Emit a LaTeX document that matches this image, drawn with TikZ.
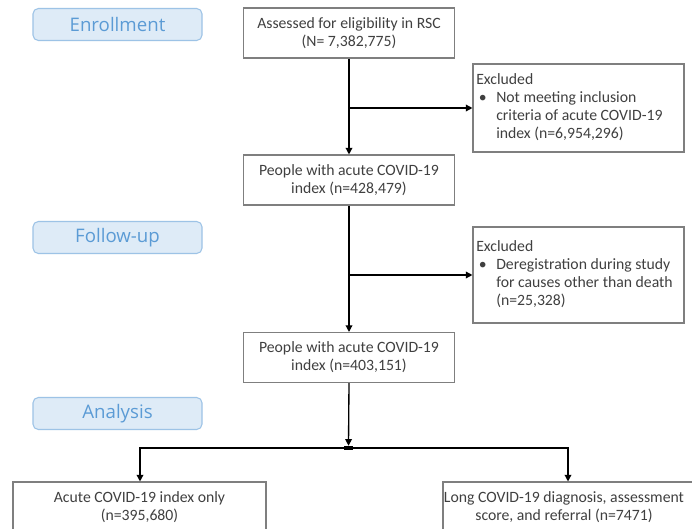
\documentclass[tikz,border=0pt]{standalone}
\usepackage{fontspec}
\setmainfont{Carlito}
\newfontfamily\stagefont{Open Sans}
\usetikzlibrary{arrows.meta}
\definecolor{stagefill}{HTML}{DEEBF7}
\definecolor{stageline}{HTML}{9DC3E6}
\definecolor{stagetext}{HTML}{5B9BD5}
\definecolor{boxtext}{HTML}{404040}
\definecolor{boxline}{HTML}{7F7F7F}
\begin{document}
\begin{tikzpicture}[x=0.75pt,y=-0.75pt,
  stage/.style={draw=stageline, fill=stagefill, rounded corners=4pt, minimum width=126.75pt, minimum height=24pt, text=stagetext, font=\stagefont\fontsize{14}{16}\selectfont, inner sep=0pt, line width=0.8pt},
  box/.style={draw=boxline, text=boxtext, font=\fontsize{11.8}{13.5}\selectfont, align=center, inner sep=0pt, line width=0.8pt},
  txt/.style={text=boxtext, font=\fontsize{11.8}{13.5}\selectfont, inner sep=0pt},
  conn/.style={line width=1pt, -{Triangle[length=5pt,width=5pt]}},
  plain/.style={line width=1pt}]
\useasboundingbox (0,0) rectangle (692,528);
\clip (0,0) rectangle (692,528);
\fill[white] (0,0) rectangle (692,528);

% stage labels
\node[stage] (s1) at (117.5,24.5) {Enrollment};
\node[stage] (s2) at (117.5,237.5) {Follow-up};
\node[stage] (s3) at (117.5,413.5) {Analysis};

% main boxes
\node[box, minimum width=158.25pt, minimum height=37.5pt] (b1) at (349,33)
  {Assessed for eligibility in RSC\\(N= 7,382,775)};
\node[box, minimum width=158.25pt, minimum height=37.5pt] (b2) at (349,180)
  {People with acute COVID-19\\index (n=428,479)};
\node[box, minimum width=158.25pt, minimum height=37.5pt] (b3) at (349,357.5)
  {People with acute COVID-19\\index (n=403,151)};

% exclusion boxes
\node[box, minimum width=158.25pt, minimum height=66pt] (e1) at (578.5,108) {};
\node[txt, anchor=north west, align=left] (e1t) at (476,72)
  {\begin{tabular}{@{}p{15pt}@{}l@{}}
   \multicolumn{2}{@{}l@{}}{Excluded}\\
   \hspace*{2pt}\textbullet & Not meeting inclusion\\
    & criteria of acute COVID-19\\
    & index (n=6,954,296)
   \end{tabular}};
\node[box, minimum width=158.25pt, minimum height=72pt] (e2) at (578.5,275) {};
\node[txt, anchor=north west, align=left] (e2t) at (476,239)
  {\begin{tabular}{@{}p{15pt}@{}l@{}}
   \multicolumn{2}{@{}l@{}}{Excluded}\\
   \hspace*{2pt}\textbullet & Deregistration during study\\
    & for causes other than death\\
    & (n=25,328)
   \end{tabular}};

% bottom boxes (cut by the frame)
\node[box, minimum width=189.75pt, minimum height=45pt] (l) at (139.5,512) {};
\node[txt, align=center, anchor=north] (lt) at (139.5,491)
  {Acute COVID-19 index only\\(n=395,680)};
\node[box, minimum width=207.75pt, minimum height=45pt] (r) at (581.5,512) {};
\node[txt, align=center, anchor=north] (rt) at (564,491)
  {Long COVID-19 diagnosis, assessment\\score, and referral (n=7471)};

% connectors
\coordinate (j1) at (b1.south |- e1.west);
\coordinate (j2) at (b2.south |- e2.west);
\draw[conn] (b1.south) -- (b2.north);
\draw[conn] (j1) -- (e1.west);
\draw[conn] (b2.south) -- (b3.north);
\draw[conn] (j2) -- (e2.west);

\node[fill=black, minimum width=6.5pt, minimum height=3pt, inner sep=0pt] (jn) at (348.5,448) {};
\draw[conn] (b3.south) -- (jn.north);
\coordinate (cl) at (140,448);
\coordinate (cr) at (568,448);
\draw[conn] (jn.center) -- (cl) -- (cl |- l.north);
\draw[conn] (jn.center) -- (cr) -- (cr |- r.north);
\end{tikzpicture}
\end{document}
